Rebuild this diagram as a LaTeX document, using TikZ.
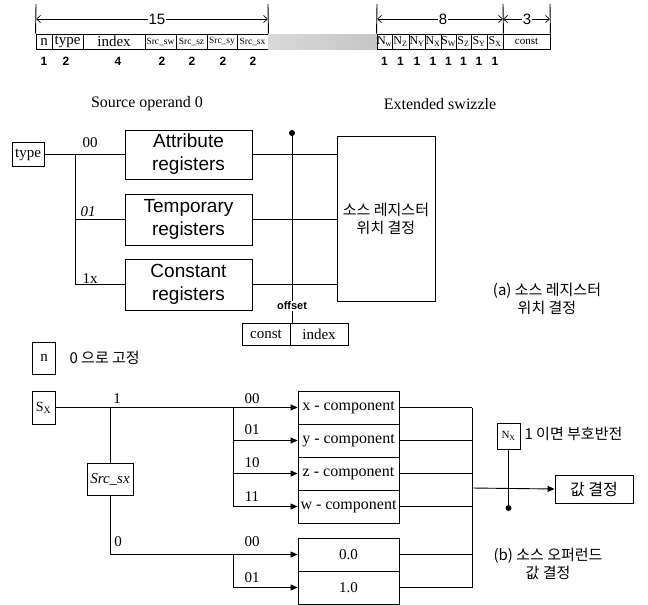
\documentclass[tikz,border=0pt]{standalone}
\usepackage{fontspec}
\setmainfont{Liberation Serif}
\setsansfont{Liberation Sans}
\newfontfamily\kr{Noto Sans CJK KR}
\usetikzlibrary{arrows.meta}
\begin{document}
\begin{tikzpicture}[x=1pt,y=-1pt,
  fbox/.style={draw, inner sep=0pt, line width=0.9pt},
  cell/.style={fbox, minimum height=15pt},
  wire/.style={line width=0.9pt},
  arr/.style={wire, -{Triangle[length=7pt,width=6pt]}},
  dimarr/.style={line width=0.7pt, {Straight Barb[length=4pt,width=7pt]}-{Straight Barb[length=4pt,width=7pt]}},
  f15/.style={font=\fontsize{15}{17}\selectfont},
  i15/.style={font=\itshape\fontsize{15}{17}\selectfont},
  bitn/.style={font=\sffamily\bfseries\fontsize{12}{12}\selectfont},
  srcf/.style={font=\fontsize{9.5}{10}\selectfont},
  nf/.style={font=\fontsize{12}{12}\selectfont},
  regf/.style={font=\sffamily\fontsize{19}{23}\selectfont, align=center},
  krf/.style={font=\kr\fontsize{15}{18}\selectfont},
  compf/.style={font=\fontsize{16}{16}\selectfont},
  dimlbl/.style={fill=white, inner sep=1pt, font=\sffamily\fontsize{15}{15}\selectfont},
  dotn/.style={circle, fill, inner sep=0pt, minimum size=6pt},
]
\useasboundingbox (0,0) rectangle (648,605);

% ---------- top field rows ----------
\node[cell, minimum width=16pt, f15] (cn) at (44,41.5) {n};
\node[cell, minimum width=31pt, f15] (ctype) at (67.5,41.5) {type};
\node[cell, minimum width=62pt, f15] (cindex) at (114,41.5) {index};
\node[cell, minimum width=31pt, srcf] (csw) at (160.5,41.5) {Src\_sw};
\node[cell, minimum width=31pt, srcf] (csz) at (191.5,41.5) {Src\_sz};
\node[cell, minimum width=30pt, srcf] (csy) at (222,41.5) {Src\_sy};
\node[cell, minimum width=31pt, srcf] (csx) at (252.5,41.5) {Src\_sx};
\shade[left color=gray!30, right color=gray!45] (268,34) rectangle (377,49);
\node[cell, minimum width=15pt, nf] (nw) at (384.5,41.5) {N\textsubscript{w}};
\node[cell, minimum width=17pt, nf] (nz) at (400.5,41.5) {N\textsubscript{Z}};
\node[cell, minimum width=16pt, nf] (ny) at (417,41.5) {N\textsubscript{Y}};
\node[cell, minimum width=16pt, nf] (nx) at (433,41.5) {N\textsubscript{X}};
\node[cell, minimum width=15pt, nf] (sw) at (448.5,41.5) {S\textsubscript{W}};
\node[cell, minimum width=15pt, nf] (sz) at (463.5,41.5) {S\textsubscript{Z}};
\node[cell, minimum width=16pt, nf] (sy) at (479,41.5) {S\textsubscript{Y}};
\node[cell, minimum width=16pt, nf] (sx) at (495,41.5) {S\textsubscript{X}};
\node[cell, minimum width=47pt, font=\fontsize{11}{11}\selectfont] (cconst) at (526.5,41.5) {const};

% dimension lines
\coordinate (e1) at (36,4); \coordinate (e2) at (268,4);
\coordinate (e3) at (377,4); \coordinate (e4) at (503,4); \coordinate (e5) at (550,4);
\draw[wire] (e1) -- (cn.north west);
\draw[wire] (e2) -- (csx.north east);
\draw[wire] (e3) -- (nw.north west);
\draw[wire] (e4) -- (sx.north east);
\draw[wire] (e5) -- (cconst.north east);
\draw[dimarr] (36,19) -- (268,19);
\draw[dimarr] (377,19) -- (503,19);
\draw[dimarr] (503,19) -- (550,19);
\node[dimlbl] (l15) at (157,19) {15};
\node[dimlbl] (l8) at (443,19) {8};
\node[dimlbl] (l3) at (527,19) {3};

% bit counts
\foreach \x/\t [count=\i] in {44/1,66/2,118/4,162/2,192/2,223/2,253/2}
  \node[bitn] (bl\i) at (\x,61) {\t};
\foreach \x [count=\i] in {384.5,400.5,417,433,448.5,463.5,479,495}
  \node[bitn] (br\i) at (\x,61) {1};

\node[font=\fontsize{16}{16}\selectfont] (cap1) at (147,104) {Source operand 0};
\node[font=\fontsize{16}{16}\selectfont] (cap2) at (440,104) {Extended swizzle};

% ---------- part (a) ----------
\node[fbox, minimum width=32pt, minimum height=24pt, f15] (typ) at (28,154.5) {type};
\node[fbox, minimum width=127pt, minimum height=49pt, regf] (attr) at (188.5,154.5) {Attribute\\registers};
\node[fbox, minimum width=127pt, minimum height=51pt, regf] (temp) at (188.5,219.5) {Temporary\\registers};
\node[fbox, minimum width=127pt, minimum height=51pt, regf] (cons) at (188.5,284.5) {Constant\\registers};
\node[fbox, minimum width=98pt, minimum height=165pt, krf, align=center] (big) at (386,219) {소스 레지스터\\위치 결정};

\coordinate (ja) at (75,154.5);
\coordinate (jt) at (75,219.5);
\coordinate (jc) at (75,284.5);
\draw[wire] (typ.east) -- (attr.west);
\draw[wire] (ja) -- (jc) -- (cons.west);
\draw[wire] (jt) -- (temp.west);
\node[f15] (l00a) at (90,143) {00};
\node[i15] (l01a) at (88,212) {01};
\node[f15] (l1x) at (90,279) {1x};

\draw[wire] (attr.east) -- (attr.east -| big.west);
\draw[wire] (temp.east) -- (temp.east -| big.west);
\draw[wire] (cons.east) -- (cons.east -| big.west);

\node[fbox, minimum width=48pt, minimum height=22pt, f15] (kconst) at (266,334) {const};
\node[fbox, minimum width=58pt, minimum height=22pt, f15] (kindex) at (319,334) {index};
\node[dotn] (odot) at (292,133) {};
\draw[wire] (odot.center) -- (292,323);
\node[fill=white, inner sep=1pt, font=\sffamily\bfseries\fontsize{11}{11}\selectfont] (off) at (292,306) {offset};

\node[krf, align=center] (capa) at (547,299) {(a) 소스 레지스터\\위치 결정};

% ---------- part (b) ----------
\node[fbox, minimum width=23pt, minimum height=32pt, f15] (nb) at (44,358) {n};
\node[krf, anchor=west] (nlab) at (66,358) {0 으로 고정};

\node[fbox, minimum width=23pt, minimum height=33pt, font=\fontsize{14}{14}\selectfont] (sxb) at (43.5,407.5) {S\textsubscript{X}};
\node[fbox, minimum width=46pt, minimum height=32pt, i15] (srcsx) at (110,479) {Src\_sx};

\node[fbox, minimum width=101pt, minimum height=33pt, compf] (cx) at (348.5,407.5) {x - component};
\node[fbox, minimum width=101pt, minimum height=33pt, compf] (cy) at (348.5,440.5) {y - component};
\node[fbox, minimum width=101pt, minimum height=33pt, compf] (cz) at (348.5,473.5) {z - component};
\node[fbox, minimum width=101pt, minimum height=33pt, compf] (cw) at (348.5,506.5) {w - component};
\node[fbox, minimum width=101pt, minimum height=33pt, f15] (c00) at (348.5,554.5) {0.0};
\node[fbox, minimum width=101pt, minimum height=33pt, f15] (c10) at (348.5,587.5) {1.0};

\coordinate (j1) at (110,407.5);
\coordinate (j2) at (233,407.5);
\coordinate (j3) at (110,554.5);
\coordinate (j4) at (233,554.5);
\draw[arr] (sxb.east) -- (cx.west);
\draw[wire] (j1) -- (srcsx.north);
\draw[wire] (srcsx.south) -- (j3);
\draw[arr] (j3) -- (c00.west);
\draw[wire] (j2) -- (233,506.5);
\draw[arr] (233,440.5) -- (cy.west);
\draw[arr] (233,473.5) -- (cz.west);
\draw[arr] (233,506.5) -- (cw.west);
\draw[wire] (j4) -- (233,587.5);
\draw[arr] (233,587.5) -- (c10.west);

\node[f15] (l1) at (117,399) {1};
\node[f15] (l0) at (118,542) {0};
\node[f15] (lb00) at (252,399) {00};
\node[f15] (lb01) at (252,430) {01};
\node[f15] (lb10) at (252,463) {10};
\node[f15] (lb11) at (252,497) {11};
\node[f15] (lc00) at (252,542) {00};
\node[f15] (lc01) at (252,578) {01};

\coordinate (r1) at (472,407.5);
\coordinate (r6) at (472,587.5);
\coordinate (rm) at (472,488);
\foreach \n in {cx,cy,cz,cw,c00,c10}
  \draw[wire] (\n.east) -- (\n.east -| r1);
\draw[wire] (r1) -- (r6);
\node[fbox, minimum width=78pt, minimum height=28pt, font=\kr\fontsize{16}{16}\selectfont] (val) at (594,489) {값 결정};
\draw[arr] (rm) -- (val.west);
\node[fbox, minimum width=23pt, minimum height=26pt, font=\fontsize{11}{11}\selectfont] (nxb) at (508.5,436) {N\textsubscript{X}};
\node[dotn] (ndot) at (508.5,508) {};
\draw[wire] (nxb.south) -- (ndot.center);
\node[krf, anchor=west] (nxl) at (521,434) {1 이면 부호반전};

\node[krf, align=center] (capb) at (548,564) {(b) 소스 오퍼런드\\값 결정};
\end{tikzpicture}
\end{document}
